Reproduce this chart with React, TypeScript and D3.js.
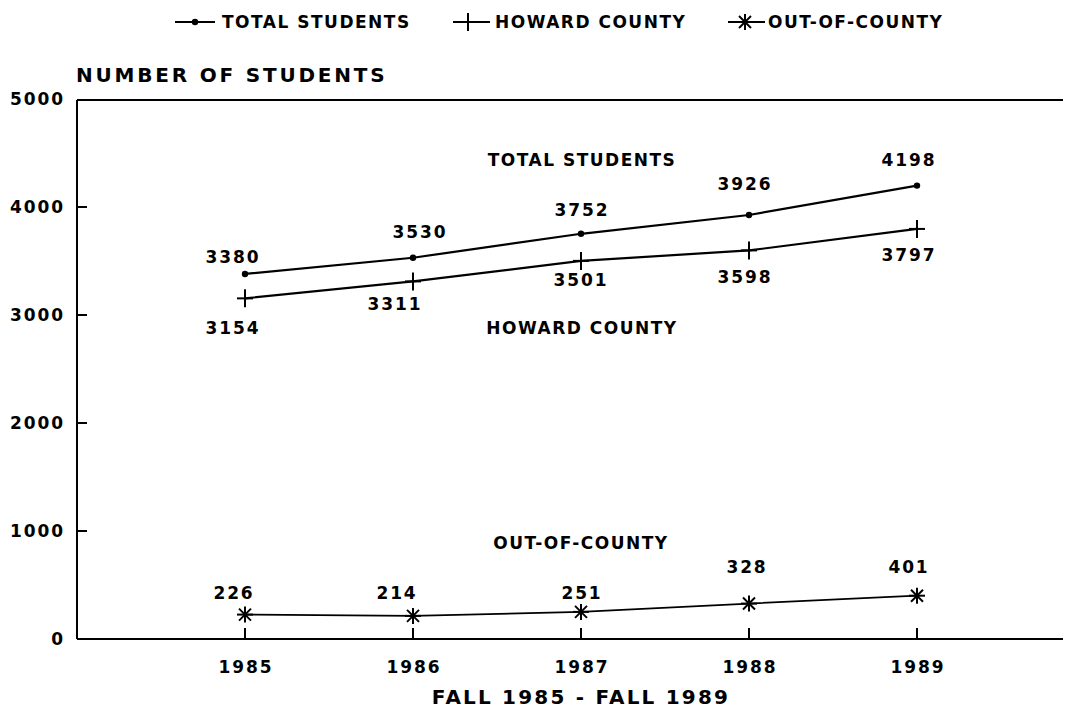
import React from "react";
import * as d3 from "d3";

const years = [1985, 1986, 1987, 1988, 1989];
const totalStudents = [3380, 3530, 3752, 3926, 4198];
const howardCounty = [3154, 3311, 3501, 3598, 3797];
const outOfCounty = [226, 214, 251, 328, 401];
const yTicks = [0, 1000, 2000, 3000, 4000, 5000];

// label offsets (px) from each point: [dx, dy]
const totalLabelOff = [[-13, -17], [6, -26], [0, -24], [-5, -31], [-9, -26]];
const howardLabelOff = [[-13, 30], [-19, 23], [-1, 19], [-5, 27], [-9, 26]];
const outLabelOff = [[-12, -22], [-17, -23], [0, -19], [-3, -37], [-9, -29]];

const W = 1075, H = 712;
const left = 77, right = 1063, top = 100, bottom = 639;
const FONT = "'DejaVu Sans', 'Liberation Sans', Arial, sans-serif";

const x = d3.scaleLinear().domain([1984, 1990]).range([left, left + 168 * 6]);
const y = d3.scaleLinear().domain([0, 5000]).range([bottom, 99]);

const lineGen = d3.line<number>()
  .x((_, i) => x(years[i]))
  .y((d) => y(d));

function Dot({ cx, cy }: { cx: number; cy: number }) {
  return <circle cx={cx} cy={cy} r={3.2} fill="#000" />;
}
function Plus({ cx, cy }: { cx: number; cy: number }) {
  return (
    <g stroke="#000" strokeWidth={2}>
      <line x1={cx} y1={cy - 9} x2={cx} y2={cy + 9} />
      <line x1={cx - 8} y1={cy} x2={cx + 8} y2={cy} />
    </g>
  );
}
function Star({ cx, cy }: { cx: number; cy: number }) {
  const r = 8, d = 6;
  return (
    <g stroke="#000" strokeWidth={2}>
      <line x1={cx} y1={cy - r} x2={cx} y2={cy + r} />
      <line x1={cx - r} y1={cy} x2={cx + r} y2={cy} />
      <line x1={cx - d} y1={cy - d} x2={cx + d} y2={cy + d} />
      <line x1={cx - d} y1={cy + d} x2={cx + d} y2={cy - d} />
    </g>
  );
}

const numStyle = { fontFamily: FONT, fontWeight: 700, fontSize: 17, letterSpacing: 1.9 } as const;
const lblStyle = { fontFamily: FONT, fontWeight: 700, fontSize: 17, letterSpacing: 1.5 } as const;
const titleStyle = { fontFamily: FONT, fontWeight: 700, fontSize: 20 } as const;

export default function App() {
  const series = [
    { vals: totalStudents, off: totalLabelOff, Marker: Dot, sw: 2.2 },
    { vals: howardCounty, off: howardLabelOff, Marker: Plus, sw: 2.2 },
    { vals: outOfCounty, off: outLabelOff, Marker: Star, sw: 1.8 },
  ];
  return (
    <svg width={W} height={H} style={{ position: "absolute", left: 0, top: 0, background: "#fff" }}>
      <rect x={0} y={0} width={W} height={H} fill="#fff" />
      {/* legend */}
      <g>
        <line x1={175} y1={22} x2={215} y2={22} stroke="#000" strokeWidth={2} />
        <Dot cx={195} cy={22} />
        <text x={222} y={22} dominantBaseline="central" style={lblStyle}>TOTAL STUDENTS</text>
        <line x1={453} y1={22} x2={490} y2={22} stroke="#000" strokeWidth={2} />
        <Plus cx={468} cy={22} />
        <text x={495} y={22} dominantBaseline="central" style={lblStyle}>HOWARD COUNTY</text>
        <line x1={728} y1={22} x2={765} y2={22} stroke="#000" strokeWidth={2} />
        <Star cx={745} cy={22} />
        <text x={768} y={22} dominantBaseline="central" style={lblStyle}>OUT-OF-COUNTY</text>
      </g>

      <text x={76} y={75} dominantBaseline="central" style={{ ...titleStyle, letterSpacing: 2.8 }}>
        NUMBER OF STUDENTS
      </text>

      {/* frame */}
      <g stroke="#000" strokeWidth={2} fill="none">
        <line x1={left} y1={top} x2={right} y2={top} />
        <line x1={left} y1={top} x2={left} y2={bottom} />
        <line x1={left} y1={bottom} x2={right} y2={bottom} />
      </g>

      {/* y ticks */}
      {yTicks.map((t) => (
        <g key={t}>
          {t > 0 && t < 5000 && (
            <line x1={left} x2={left + 10} y1={y(t)} y2={y(t)} stroke="#000" strokeWidth={2} />
          )}
          <text x={65} y={y(t)} textAnchor="end" dominantBaseline="central" style={numStyle}>
            {t}
          </text>
        </g>
      ))}

      {/* x ticks */}
      {years.map((yr) => (
        <g key={yr}>
          <line x1={x(yr)} x2={x(yr)} y1={bottom} y2={bottom - 11} stroke="#000" strokeWidth={2} />
          <text x={x(yr) + 1} y={667} textAnchor="middle" dominantBaseline="central" style={numStyle}>
            {yr}
          </text>
        </g>
      ))}

      <text x={581} y={697} textAnchor="middle" dominantBaseline="central" style={{ ...titleStyle, letterSpacing: 2.2 }}>
        FALL 1985 - FALL 1989
      </text>

      {/* series */}
      {series.map((s, si) => (
        <g key={si}>
          <path d={lineGen(s.vals) || ""} fill="none" stroke="#000" strokeWidth={s.sw} />
          {s.vals.map((v, i) => (
            <s.Marker key={i} cx={x(years[i])} cy={y(v)} />
          ))}
          {s.vals.map((v, i) => (
            <text
              key={"l" + i}
              x={x(years[i]) + s.off[i][0] + 1}
              y={y(v) + s.off[i][1]}
              textAnchor="middle"
              dominantBaseline="central"
              style={numStyle}
            >
              {v}
            </text>
          ))}
        </g>
      ))}

      {/* series labels */}
      <text x={582} y={160} textAnchor="middle" dominantBaseline="central" style={lblStyle}>TOTAL STUDENTS</text>
      <text x={582} y={328} textAnchor="middle" dominantBaseline="central" style={lblStyle}>HOWARD COUNTY</text>
      <text x={581} y={543} textAnchor="middle" dominantBaseline="central" style={lblStyle}>OUT-OF-COUNTY</text>
    </svg>
  );
}
